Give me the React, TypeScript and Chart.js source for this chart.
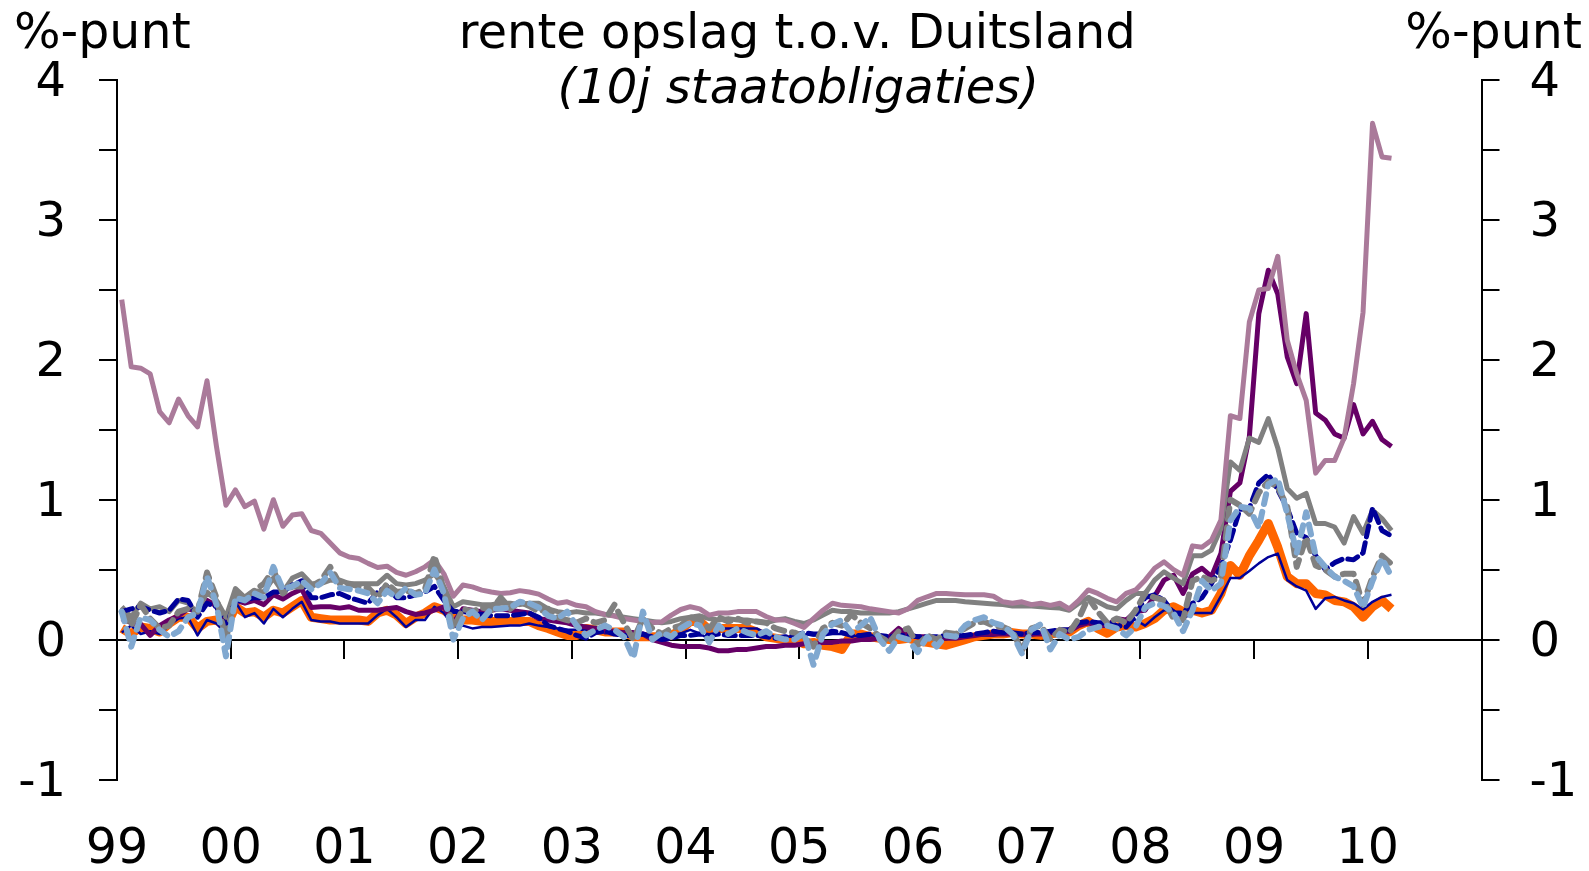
import React, { useEffect, useRef } from 'react';
import { Chart, registerables } from 'chart.js';

Chart.register(...registerables);

// Monthly data, Jan 1999 .. Mar 2010 (135 months), %-points spread vs Germany
const yearLabels = ['99', '00', '01', '02', '03', '04', '05', '06', '07', '08', '09', '10'];
const leftUnit = '%-punt';
const rightUnit = '%-punt';
const titleLine1 = 'rente opslag t.o.v. Duitsland';
const titleLine2 = '(10j staatobligaties)';

const greece = [
  2.43, 1.95, 1.94, 1.90, 1.63, 1.55, 1.72, 1.60, 1.52, 1.85,
  1.38, 0.96, 1.07, 0.95, 0.99, 0.79, 1.00, 0.81, 0.89, 0.90,
  0.78, 0.76, 0.69, 0.62, 0.59, 0.58, 0.545, 0.515, 0.525, 0.48,
  0.46, 0.485, 0.52, 0.57, 0.47, 0.31, 0.39, 0.377, 0.354, 0.34,
  0.33, 0.335, 0.35, 0.34, 0.325, 0.29, 0.26, 0.27, 0.245, 0.235,
  0.20, 0.18, 0.168, 0.15, 0.14, 0.13, 0.12, 0.127, 0.175, 0.215,
  0.235, 0.22, 0.175, 0.19, 0.19, 0.20, 0.20, 0.20, 0.165, 0.14,
  0.14, 0.115, 0.087, 0.15, 0.21, 0.26, 0.245, 0.24, 0.235, 0.22,
  0.21, 0.20, 0.19, 0.22, 0.28, 0.306, 0.33, 0.33, 0.325, 0.32,
  0.32, 0.32, 0.31, 0.27, 0.26, 0.27, 0.25, 0.26, 0.245, 0.26,
  0.22, 0.28, 0.355, 0.33, 0.295, 0.27, 0.33, 0.355, 0.425, 0.51,
  0.556, 0.50, 0.46, 0.67, 0.66, 0.71, 0.855, 1.60, 1.58, 2.27,
  2.50, 2.51, 2.74, 2.14, 1.90, 1.71, 1.19, 1.28, 1.28, 1.44,
  1.83, 2.34, 3.69, 3.45, 3.44,
];

const ireland = [
  0.15, 0.12, 0.11, 0.03, 0.10, 0.14, 0.17, 0.22, 0.20, 0.28,
  0.24, 0.10, 0.28, 0.26, 0.28, 0.25, 0.32, 0.29, 0.33, 0.36,
  0.23, 0.235, 0.235, 0.225, 0.235, 0.21, 0.21, 0.21, 0.22, 0.23,
  0.20, 0.18, 0.19, 0.21, 0.235, 0.12, 0.22, 0.21, 0.20, 0.21,
  0.22, 0.21, 0.20, 0.19, 0.15, 0.14, 0.13, 0.12, 0.10, 0.09,
  0.08, 0.06, 0.06, 0.05, 0.05, 0.04, 0.00, -0.02, -0.04, -0.05,
  -0.05, -0.05, -0.06, -0.08, -0.08, -0.07, -0.07, -0.06, -0.05, -0.05,
  -0.04, -0.04, -0.03, -0.03, -0.02, -0.02, -0.01, -0.01, 0.00, 0.00,
  0.01, 0.02, 0.08, 0.03, 0.02, 0.02, 0.01, 0.01, 0.01, 0.02,
  0.03, 0.04, 0.04, 0.04, 0.04, 0.04, 0.04, 0.04, 0.05, 0.06,
  0.06, 0.10, 0.12, 0.10, 0.10, 0.15, 0.14, 0.20, 0.21, 0.31,
  0.425, 0.46, 0.33, 0.47, 0.51, 0.45, 0.615, 1.06, 1.12, 1.45,
  2.33, 2.64, 2.47, 2.02, 1.83, 2.33, 1.62, 1.57, 1.47, 1.44,
  1.68, 1.47, 1.56, 1.43, 1.38,
];

const italy = [
  0.235, 0.16, 0.26, 0.22, 0.235, 0.20, 0.28, 0.26, 0.19, 0.34,
  0.28, 0.16, 0.365, 0.30, 0.35, 0.34, 0.44, 0.34, 0.44, 0.47,
  0.40, 0.40, 0.425, 0.425, 0.40, 0.40, 0.40, 0.40, 0.46, 0.40,
  0.39, 0.40, 0.425, 0.47, 0.38, 0.235, 0.27, 0.26, 0.25, 0.25,
  0.26, 0.26, 0.25, 0.26, 0.26, 0.22, 0.20, 0.19, 0.20, 0.19,
  0.19, 0.18, 0.17, 0.16, 0.15, 0.14, 0.13, 0.12, 0.13, 0.15,
  0.16, 0.17, 0.15, 0.14, 0.15, 0.14, 0.14, 0.13, 0.12, 0.14,
  0.15, 0.13, 0.115, 0.14, 0.175, 0.21, 0.20, 0.20, 0.19, 0.19,
  0.19, 0.19, 0.20, 0.22, 0.24, 0.26, 0.28, 0.28, 0.28, 0.27,
  0.265, 0.26, 0.255, 0.25, 0.24, 0.24, 0.24, 0.235, 0.23, 0.225,
  0.21, 0.26, 0.30, 0.27, 0.235, 0.22, 0.28, 0.33, 0.33, 0.425,
  0.485, 0.44, 0.40, 0.60, 0.60, 0.64, 0.795, 1.27, 1.21, 1.44,
  1.41, 1.58, 1.37, 1.08, 1.01, 1.045, 0.83, 0.83, 0.805, 0.69,
  0.88, 0.76, 0.925, 0.865, 0.78,
];

const belgium = [
  0.20, 0.22, 0.235, 0.21, 0.19, 0.21, 0.29, 0.28, 0.16, 0.26,
  0.235, 0.09, 0.28, 0.28, 0.30, 0.30, 0.34, 0.34, 0.39, 0.42,
  0.30, 0.30, 0.32, 0.33, 0.30, 0.28, 0.26, 0.34, 0.38, 0.30,
  0.30, 0.32, 0.34, 0.38, 0.28, 0.20, 0.20, 0.19, 0.18, 0.17,
  0.17, 0.17, 0.18, 0.19, 0.16, 0.10, 0.08, 0.06, 0.03, 0.01,
  0.05, 0.06, 0.04, 0.03, 0.03, 0.04, 0.02, 0.00, 0.01, 0.03,
  0.03, 0.04, 0.03, 0.04, 0.03, 0.03, 0.03, 0.03, 0.02, 0.01,
  0.02, 0.03, 0.05, 0.04, 0.04, 0.06, 0.05, 0.03, 0.03, 0.04,
  0.03, 0.02, 0.03, 0.03, 0.02, 0.02, 0.02, 0.03, 0.03, 0.03,
  0.04, 0.05, 0.06, 0.05, 0.05, 0.04, 0.05, 0.05, 0.06, 0.07,
  0.07, 0.12, 0.13, 0.12, 0.12, 0.10, 0.09, 0.17, 0.30, 0.32,
  0.28, 0.19, 0.19, 0.26, 0.30, 0.40, 0.52, 0.71, 0.93, 0.94,
  1.12, 1.18, 1.07, 0.94, 0.76, 0.73, 0.60, 0.50, 0.55, 0.58,
  0.57, 0.62, 0.94, 0.78, 0.74,
];

const austria = [
  0.20, -0.05, 0.16, 0.14, 0.07, 0.02, 0.06, 0.16, 0.19, 0.45,
  0.25, -0.12, 0.30, 0.28, 0.33, 0.30, 0.52, 0.36, 0.38, 0.42,
  0.36, 0.40, 0.48, 0.37, 0.36, 0.35, 0.33, 0.26, 0.35, 0.30,
  0.37, 0.32, 0.33, 0.50, 0.33, 0.00, 0.15, 0.20, 0.14, 0.22,
  0.22, 0.23, 0.27, 0.26, 0.23, 0.17, 0.15, 0.20, 0.10, 0.03,
  0.07, 0.10, 0.07, 0.02, -0.13, 0.20, 0.00, 0.05, 0.02, 0.08,
  0.12, 0.10, -0.02, 0.10, 0.04, 0.08, 0.05, 0.03, 0.06, 0.02,
  0.00, 0.00, 0.05, -0.18, 0.04, 0.11, 0.14, 0.05, 0.10, 0.16,
  0.00, -0.08, 0.02, 0.00, -0.09, 0.02, -0.05, 0.03, 0.02, 0.10,
  0.14, 0.16, 0.12, 0.10, 0.04, -0.10, 0.07, 0.11, -0.07, 0.04,
  0.00, 0.02, 0.07, 0.09, 0.10, 0.08, 0.03, 0.09, 0.23, 0.26,
  0.24, 0.19, 0.06, 0.21, 0.42, 0.35, 0.40, 0.85, 0.95, 0.94,
  0.80, 1.11, 1.15, 0.90, 0.62, 0.91, 0.60, 0.52, 0.45, 0.42,
  0.38, 0.23, 0.42, 0.58, 0.45,
];

const spain = [
  0.20, 0.10, 0.25, 0.15, 0.08, 0.10, 0.20, 0.22, 0.20, 0.48,
  0.30, 0.00, 0.33, 0.30, 0.35, 0.40, 0.50, 0.33, 0.38, 0.38,
  0.38, 0.42, 0.52, 0.40, 0.40, 0.38, 0.37, 0.30, 0.40, 0.34,
  0.35, 0.33, 0.36, 0.60, 0.35, 0.08, 0.22, 0.20, 0.23, 0.21,
  0.30, 0.22, 0.27, 0.24, 0.20, 0.22, 0.16, 0.14, 0.12, 0.15,
  0.12, 0.14, 0.25, 0.12, 0.00, 0.15, 0.08, 0.04, 0.08, 0.10,
  0.16, 0.14, 0.08, 0.16, 0.13, 0.15, 0.12, 0.13, 0.12, 0.08,
  0.06, 0.05, 0.02, -0.05, 0.08, 0.12, 0.10, 0.18, 0.12, 0.08,
  0.02, -0.02, 0.06, 0.08, -0.04, 0.03, 0.00, 0.05, 0.04, 0.08,
  0.12, 0.13, 0.10, 0.09, 0.06, -0.08, 0.08, 0.10, 0.00, 0.07,
  0.05, 0.15, 0.30, 0.20, 0.12, 0.15, 0.12, 0.21, 0.33, 0.30,
  0.28, 0.15, 0.14, 0.42, 0.45, 0.42, 0.45, 1.00, 0.96, 0.90,
  1.05, 1.13, 1.09, 0.95, 0.52, 0.73, 0.53, 0.50, 0.45, 0.47,
  0.47, 0.25, 0.45, 0.60, 0.54,
];

const netherlands = [
  0.08, 0.04, 0.09, 0.08, 0.055, 0.115, 0.16, 0.16, 0.08, 0.13,
  0.14, 0.09, 0.235, 0.19, 0.20, 0.16, 0.21, 0.19, 0.235, 0.28,
  0.16, 0.15, 0.14, 0.14, 0.14, 0.14, 0.13, 0.19, 0.21, 0.175,
  0.115, 0.16, 0.19, 0.235, 0.21, 0.16, 0.14, 0.14, 0.13, 0.13,
  0.13, 0.13, 0.13, 0.13, 0.10, 0.08, 0.055, 0.03, 0.03, 0.08,
  0.07, 0.055, 0.055, 0.055, 0.02, 0.02, 0.02, 0.02, 0.03, 0.07,
  0.13, 0.13, 0.07, 0.08, 0.08, 0.08, 0.08, 0.055, 0.02, 0.01,
  0.00, 0.00, -0.03, -0.02, -0.04, -0.05, -0.07, 0.04, 0.04, 0.02,
  0.01, 0.00, 0.00, 0.01, -0.01, -0.02, -0.03, -0.04, -0.02, 0.00,
  0.02, 0.03, 0.04, 0.04, 0.05, 0.04, 0.04, 0.03, 0.04, 0.05,
  0.055, 0.10, 0.13, 0.08, 0.045, 0.09, 0.10, 0.09, 0.115, 0.15,
  0.21, 0.235, 0.20, 0.21, 0.19, 0.21, 0.33, 0.53, 0.46, 0.60,
  0.71, 0.83, 0.66, 0.45, 0.40, 0.40, 0.33, 0.32, 0.28, 0.27,
  0.235, 0.16, 0.235, 0.28, 0.22,
];

const france = [
  0.05, 0.10, 0.04, 0.06, 0.04, 0.10, 0.15, 0.16, 0.03, 0.14,
  0.115, 0.04, 0.27, 0.16, 0.19, 0.115, 0.22, 0.16, 0.22, 0.27,
  0.14, 0.13, 0.13, 0.115, 0.115, 0.115, 0.115, 0.175, 0.22, 0.16,
  0.09, 0.14, 0.14, 0.235, 0.19, 0.09, 0.10, 0.08, 0.09, 0.09,
  0.095, 0.10, 0.10, 0.115, 0.10, 0.09, 0.08, 0.07, 0.07, 0.07,
  0.09, 0.045, 0.055, 0.055, 0.045, 0.03, 0.02, 0.02, 0.03, 0.045,
  0.07, 0.045, 0.00, 0.08, 0.08, 0.08, 0.08, 0.08, 0.045, 0.02,
  0.02, 0.02, 0.04, 0.03, 0.03, 0.04, 0.04, 0.03, 0.02, 0.03,
  0.03, 0.02, 0.03, 0.02, 0.02, 0.02, 0.02, 0.03, 0.03, 0.02,
  0.03, 0.03, 0.03, 0.04, 0.04, 0.03, 0.03, 0.04, 0.04, 0.05,
  0.06, 0.13, 0.12, 0.11, 0.10, 0.09, 0.15, 0.14, 0.10, 0.16,
  0.21, 0.21, 0.15, 0.19, 0.19, 0.19, 0.31, 0.44, 0.44, 0.49,
  0.545, 0.59, 0.615, 0.425, 0.38, 0.35, 0.22, 0.295, 0.305, 0.28,
  0.26, 0.215, 0.27, 0.305, 0.32,
];

const FONT = 'DejaVu Sans';

const toPoints = (arr: number[]) => arr.map((v, i) => ({ x: i + 0.5, y: v }));

const textPlugin = {
  id: 'texts',
  afterDraw(chart: any) {
    const ctx = chart.ctx;
    ctx.save();
    ctx.fillStyle = '#000';
    ctx.textBaseline = 'alphabetic';
    ctx.font = `49px "${FONT}"`;
    ctx.textAlign = 'left';
    ctx.fillText(leftUnit, 14, 48);
    ctx.textAlign = 'right';
    ctx.fillText(rightUnit, 1582, 48);
    const cx = (chart.chartArea.left + chart.chartArea.right) / 2;
    ctx.textAlign = 'center';
    ctx.font = `48px "${FONT}"`;
    ctx.fillText(titleLine1, cx - 2, 48);
    ctx.font = `italic 48px "${FONT}"`;
    ctx.fillText(titleLine2, cx - 1, 103);
    ctx.restore();
  },
};

export default function App() {
  const ref = useRef<HTMLCanvasElement>(null);
  useEffect(() => {
    const canvas = ref.current;
    if (!canvas) return;
    const line = (data: number[], color: string, width: number, order: number, dash: number[] = []) => ({
      data: toPoints(data),
      borderColor: color,
      backgroundColor: color,
      borderWidth: width,
      borderDash: dash,
      borderCapStyle: dash.length ? 'round' : 'butt',
      borderJoinStyle: 'round',
      pointRadius: 0,
      tension: 0,
      fill: false,
      order,
      xAxisID: 'x',
      yAxisID: 'y',
    });
    const yTicks = (pad: number) => ({
      stepSize: 0.5,
      autoSkip: false,
      padding: pad,
      labelOffset: 4,
      color: '#000',
      font: { family: FONT, size: 48 },
      callback: (v: any) => (Number.isInteger(v) ? String(v) : ''),
    });
    const chart = new Chart(canvas, {
      type: 'line',
      data: {
        datasets: [
          line(austria, '#80A8D0', 6, 1, [10, 8]) as any,
          line(spain, '#808080', 6, 2, [11, 8]) as any,
          line(belgium, '#000099', 5, 3, [11, 6]) as any,
          line(greece, '#AA7A9A', 5, 4) as any,
          line(italy, '#808080', 5, 5) as any,
          line(ireland, '#660066', 5, 6) as any,
          line(france, '#000099', 2.5, 7) as any,
          line(netherlands, '#FF6600', 9, 8) as any,
        ],
      },
      options: {
        animation: false,
        responsive: false,
        devicePixelRatio: 1,
        layout: { padding: { top: 80, left: 0, right: 0, bottom: 0 } },
        plugins: { legend: { display: false }, tooltip: { enabled: false }, title: { display: false } },
        events: [],
        scales: {
          x: {
            type: 'linear',
            position: { y: 0 } as any,
            min: 0,
            max: 144,
            ticks: { stepSize: 12, autoSkip: false, callback: () => '' },
            grid: { drawOnChartArea: false, drawTicks: true, tickLength: 18, color: '#000', lineWidth: 2 },
            border: { display: true, color: '#000', width: 2 },
          },
          xl: {
            type: 'linear',
            position: 'bottom',
            min: 0,
            max: 144,
            ticks: {
              stepSize: 12,
              autoSkip: false,
              maxRotation: 0,
              padding: 41,
              color: '#000',
              font: { family: FONT, size: 49 },
              callback: (v: any) => yearLabels[Math.round(v / 12)] ?? '',
            },
            grid: { display: false, drawTicks: false },
            border: { display: false },
            afterFit: (s: any) => { s.height = 871 - 779.5; },
          },
          y: {
            type: 'linear',
            position: 'left',
            min: -1,
            max: 4,
            ticks: yTicks(33) as any,
            grid: { drawOnChartArea: false, drawTicks: true, tickLength: 18, color: '#000', lineWidth: 2 },
            border: { color: '#000', width: 2 },
            afterFit: (s: any) => { s.width = 117; },
          },
          y2: {
            type: 'linear',
            position: 'right',
            min: -1,
            max: 4,
            ticks: yTicks(30) as any,
            grid: { drawOnChartArea: false, drawTicks: true, tickLength: 18, color: '#000', lineWidth: 2 },
            border: { color: '#000', width: 2 },
            afterFit: (s: any) => { s.width = 1589 - 1481.5; },
          },
        },
      } as any,
      plugins: [textPlugin],
    });
    return () => chart.destroy();
  }, []);
  return (
    <div style={{ position: 'fixed', left: 0, top: 0, width: 1589, height: 871, background: '#fff' }}>
      <canvas ref={ref} width={1589} height={871} style={{ width: 1589, height: 871, display: 'block' }} />
    </div>
  );
}
